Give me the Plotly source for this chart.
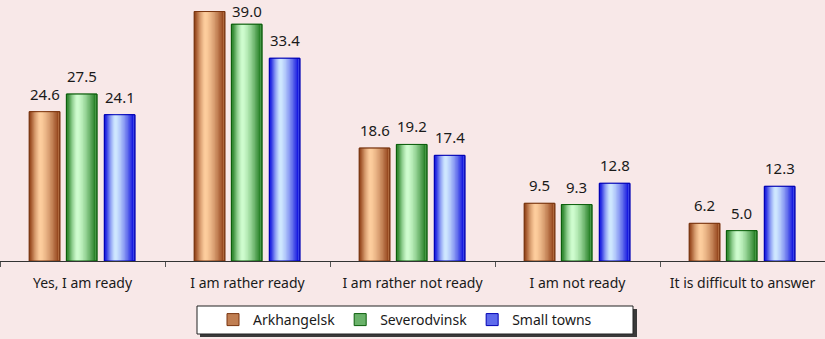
import plotly.graph_objects as go

categories = ["Yes, I am ready", "I am rather ready", "I am rather not ready",
              "I am not ready", "It is difficult to answer"]
series_names = ["Arkhangelsk", "Severodvinsk", "Small towns"]
arkhangelsk = [24.6, 41.1, 18.6, 9.5, 6.2]
severodvinsk = [27.5, 39.0, 19.2, 9.3, 5.0]
small_towns = [24.1, 33.4, 17.4, 12.8, 12.3]
series_values = [arkhangelsk, severodvinsk, small_towns]

# styling
edge_colors = [(140, 58, 18), (20, 115, 20), (0, 0, 220)]
center_colors = [(255, 208, 160), (210, 255, 210), (210, 235, 255)]
border_colors = ["#7a3510", "#0b5e0b", "#0000b4"]
offsets_c = [-0.23, -0.005, 0.225]
W = 0.185
N = 14
FONT = "Noto Sans"
BG = "#F8E8E8"
Y_MAX = 43.0
H_PLOT = 261
LABEL_BOX = 23  # approximate pixel height of a value label box


def mix(a, b, t):
    return "rgb(%d,%d,%d)" % tuple(round(a[i] + (b[i] - a[i]) * t) for i in range(3))


fig = go.Figure()
annotations = []
for s, (name, vals) in enumerate(zip(series_names, series_values)):
    for k in range(N):
        f = 1 - k / N
        t = 1 - f ** 1.5
        if k == 0:
            t = 0.45
        w = W * f
        shift = -0.14 * W * (1 - f)
        fig.add_trace(go.Bar(
            x=categories, y=vals, name=name,
            width=w, offset=offsets_c[s] + shift - w / 2,
            marker=dict(color=mix(edge_colors[s], center_colors[s], t),
                        line=dict(width=1 if k == 0 else 0, color=border_colors[s])),
            showlegend=(k == 0), legendgroup=name,
            hoverinfo="skip",
        ))
    # border on top
    fig.add_trace(go.Bar(
        x=categories, y=vals, name=name, width=W, offset=offsets_c[s] - W / 2,
        marker=dict(color="rgba(0,0,0,0)", line=dict(width=1, color=border_colors[s])),
        showlegend=False, legendgroup=name, hoverinfo="skip",
    ))
    # value labels (a label with no room above the chart top is not shown, as in the source)
    for i, v in enumerate(vals):
        room = H_PLOT * (1 - v / Y_MAX) - LABEL_BOX
        if room >= 0:
            annotations.append(dict(
                x=i + offsets_c[s], y=v, xref="x", yref="y",
                text="%.1f" % v, showarrow=False,
                xanchor="center", yanchor="bottom", yshift=min(6, room),
                font=dict(family=FONT, size=15, color="#1a1a1a"),
            ))


def py(p):
    return (H_PLOT - p) / H_PLOT


fig.update_layout(
    width=825, height=339,
    margin=dict(l=0, r=0, t=0, b=339 - H_PLOT),
    paper_bgcolor=BG, plot_bgcolor=BG,
    barmode="overlay",
    font=dict(family=FONT, size=14, color="#1a1a1a"),
    showlegend=True,
    legend=dict(orientation="h", x=405 / 825, xanchor="center", y=py(320), yanchor="middle",
                bgcolor="rgba(0,0,0,0)", borderwidth=0,
                font=dict(family=FONT, size=14, color="#1a1a1a"),
                itemclick=False, itemdoubleclick=False),
    xaxis=dict(range=[-0.5, 4.5], showline=True, linecolor="#333333", linewidth=1,
               ticks="outside", tickson="boundaries", ticklen=5, tickcolor="#555555",
               ticklabelstandoff=9,
               showgrid=False, zeroline=False,
               tickfont=dict(family=FONT, size=14, color="#1a1a1a")),
    yaxis=dict(range=[0, Y_MAX], visible=False, showgrid=False, zeroline=False),
    annotations=annotations,
    shapes=[
        dict(type="rect", xref="paper", yref="paper", layer="above",
             x0=200 / 825, x1=637 / 825, y0=py(337), y1=py(309),
             fillcolor="#3a3a3a", line=dict(width=0)),
        dict(type="rect", xref="paper", yref="paper", layer="above",
             x0=197 / 825, x1=633 / 825, y0=py(334), y1=py(306),
             fillcolor="white", line=dict(width=1, color="#222222")),
    ],
)

fig.write_html("out.html", config={"displayModeBar": False},
               post_script="document.body.style.margin='0';document.body.style.overflow='hidden';")
